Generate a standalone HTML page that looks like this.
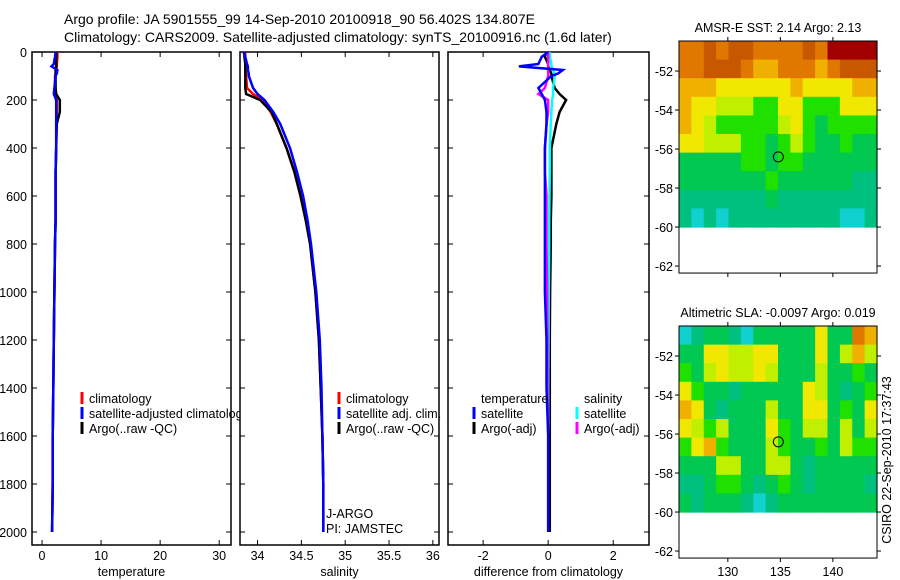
<!DOCTYPE html>
<html><head><meta charset="utf-8"><style>
body{margin:0;background:#fff}
svg{display:block;font-family:"Liberation Sans",sans-serif}
</style></head><body>
<svg id="c" width="900" height="580" xmlns="http://www.w3.org/2000/svg">
<text x="64" y="24" font-size="14">Argo profile: JA 5901555_99 14-Sep-2010 20100918_90 56.402S 134.807E</text>
<text x="64" y="42" font-size="14">Climatology: CARS2009. Satellite-adjusted climatology: synTS_20100916.nc (1.6d later)</text>
<g id="g"></g>
</svg>
<script>
const depths=[0,20,50,60,75,90,100,150,175,200,250,300,400,500,600,700,800,1000,1200,1400,1600,1800,2000];
const tempClim=[2.6,2.6,2.5,2.5,2.4,2.3,2.2,2.2,2.3,2.5,2.5,2.4,2.4,2.3,2.3,2.3,2.2,2.1,2.0,1.9,1.8,1.8,1.7];
const tempSat=[2.3,2.2,2.0,1.6,2.6,2.5,2.3,2.1,2.0,2.4,2.4,2.4,2.4,2.3,2.3,2.3,2.2,2.1,2.0,1.9,1.8,1.8,1.7];
const tempArgo=[2.4,2.4,2.4,2.4,2.3,2.3,2.3,2.3,2.4,3.0,3.0,2.5,2.4,2.3,2.3,2.3,2.2,2.1,2.0,1.9,1.8,1.8,1.7];
const salClim=[33.86,33.86,33.86,33.86,33.86,33.87,33.87,33.88,33.95,34.05,34.15,34.22,34.33,34.42,34.49,34.55,34.60,34.66,34.70,34.72,34.74,34.75,34.75];
const salSat=[33.84,33.86,33.88,33.89,33.89,33.90,33.90,33.95,34.00,34.08,34.18,34.26,34.37,34.45,34.52,34.57,34.61,34.67,34.71,34.73,34.74,34.75,34.75];
const salArgo=[33.85,33.85,33.86,33.86,33.86,33.86,33.86,33.86,33.87,34.03,34.16,34.22,34.33,34.42,34.49,34.55,34.60,34.66,34.70,34.72,34.74,34.75,34.75];
const dTempSat=[0,-0.2,-0.3,-0.9,0.45,0.3,0.1,-0.3,-0.2,-0.1,-0.05,-0.05,-0.1,-0.1,-0.1,-0.1,-0.1,-0.1,-0.05,-0.05,0,0,0];
const dTempArgo=[-0.05,-0.1,0,0,0.05,0.1,0.1,0.2,0.35,0.55,0.35,0.25,0.1,0.1,0.1,0.08,0.08,0.06,0.05,0.05,0.05,0.05,0.05];
const dSalSat=[0.05,0.05,0.1,0.1,0.15,0.2,0.2,0.15,0.15,0.12,0.1,0.08,0.05,0.05,0.04,0.03,0.03,0.02,0.01,0,0,0,0];
const dSalArgo=[0,0,0,0,0,0,0,-0.1,-0.3,0,0,-0.05,-0.1,-0.1,-0.05,-0.05,-0.05,-0.03,-0.02,-0.02,0,0,0];
const depthTicks=[0,200,400,600,800,1000,1200,1400,1600,1800,2000];
const tempTicks=[0,10,20,30];
const salTicks=[34,34.5,35,35.5,36];
const diffTicks=[-2,0,2];
const latTicks=[-52,-54,-56,-58,-60,-62];
const lonTicks=[130,135,140];
const sstGrid=[
[7,7,8,7,8,8,7,7,7,7,8,7,9,9,9,9],
[7,7,8,8,8,7,6,6,7,7,7,6,7,8,8,8],
[6,6,6,5,5,5,5,5,5,6,5,5,5,5,6,6],
[6,5,5,4,4,4,3,3,5,5,3,3,3,5,5,5],
[6,5,4,3,3,3,3,3,4,5,3,2,3,3,3,3],
[5,5,4,4,4,3,3,2,3,4,3,2,2,3,2,2],
[2,2,2,2,2,3,3,2,3,3,2,2,2,2,2,2],
[2,2,2,2,2,2,2,3,2,2,2,2,2,2,1,1],
[1,1,1,1,1,1,1,2,1,1,1,1,1,1,1,1],
[1,0,1,0,1,1,1,1,1,1,1,1,1,0,0,1]];
const slaGrid=[
[0,1,2,2,1,0,2,2,2,2,2,5,2,2,7,6],
[2,2,5,5,4,4,5,5,2,2,2,5,2,4,6,4],
[3,2,4,5,4,4,5,4,2,2,2,4,2,2,3,2],
[5,3,2,2,1,2,2,2,2,2,5,4,2,1,2,3],
[6,5,2,1,2,2,2,4,2,2,5,5,2,3,2,5],
[5,4,3,4,2,2,2,5,3,2,4,4,2,4,2,4],
[3,5,6,3,2,2,2,4,3,2,2,3,2,4,3,3],
[2,2,2,4,4,2,2,4,4,2,1,2,2,2,2,2],
[1,1,2,3,3,2,1,2,3,2,1,2,2,2,2,1],
[2,1,2,2,2,1,0,1,2,2,2,2,2,2,2,2]];
const floatLon=134.807, floatLat=-56.402;

const NS="http://www.w3.org/2000/svg";
const g=document.getElementById('g');
function mk(t,a,p){const e=document.createElementNS(NS,t);for(const k in a)e.setAttribute(k,a[k]);(p||g).appendChild(e);return e;}
const yTop=52,yBot=545;
const yD=d=>yTop+d*0.24;
const colors=['#10d0d0','#00c080','#00c850','#20e000','#c0f000','#f0e800','#f0b000','#e07800','#c85800','#a00000'];
const FS=12.5;

function panel(name,x0,x1,vmin,vmax,ticks,title,showY,fill){
  const sx=v=>x0+(v-vmin)/(vmax-vmin)*(x1-x0);
  const fr=mk('rect',{x:x0,y:yTop,width:x1-x0,height:yBot-yTop,fill:fill,stroke:'#000','stroke-width':1.5});
  
  
  depthTicks.forEach(d=>{
    mk('line',{x1:x0,x2:x0+5,y1:yD(d),y2:yD(d),stroke:'#000'});
    mk('line',{x1:x1,x2:x1-5,y1:yD(d),y2:yD(d),stroke:'#000'});
    if(showY){const t=mk('text',{x:x0-5,y:yD(d)+5,'font-size':FS,'text-anchor':'end'});t.textContent=d;
      
      }
  });
  ticks.forEach(v=>{
    mk('line',{x1:sx(v),x2:sx(v),y1:yTop,y2:yTop+5,stroke:'#000'});
    mk('line',{x1:sx(v),x2:sx(v),y1:yBot,y2:yBot-5,stroke:'#000'});
    const t=mk('text',{x:sx(v),y:560,'font-size':FS,'text-anchor':'middle'});t.textContent=v;
    
    
  });
  const tt=mk('text',{x:(x0+x1)/2,y:576,'font-size':FS,'text-anchor':'middle'});tt.textContent=title;
  
  
  return sx;
}
function line(sx,vals,col,nm,w){
  const pts=vals.map((v,i)=>sx(v).toFixed(1)+','+yD(depths[i]).toFixed(1)).join(' ');
  const p=mk('polyline',{points:pts,fill:'none',stroke:col,'stroke-width':w||2.5});
  
  
}
function legend(x,y,col,label,nm){
  if(col){mk('line',{x1:x,x2:x,y1:y-11,y2:y+1,stroke:col,'stroke-width':3});}
  const t=mk('text',{x:x+7,y:y,'font-size':FS});t.textContent=label;
  
  
}
const s1=panel('temperature-panel',32,231,-1.7,32,tempTicks,'temperature',true,'#fff');
line(s1,tempClim,'#f00','temp-climatology-line');
line(s1,tempArgo,'#000','temp-argo-line');
line(s1,tempSat,'#00f','temp-satellite-line');
legend(82,403,'#f00','climatology','legend-climatology');
legend(82,418,'#00f','satellite-adjusted climatology','legend-satellite-adjusted');
legend(82,433,'#000','Argo(..raw -QC)','legend-argo');
const s2=panel('salinity-panel',240,439,33.8,36.07,salTicks,'salinity',false,'#fff');
line(s2,salClim,'#f00','sal-climatology-line');
line(s2,salArgo,'#000','sal-argo-line');
line(s2,salSat,'#00f','sal-satellite-line');
legend(339,403,'#f00','climatology','legend-sal-climatology');
legend(339,418,'#00f','satellite adj. clim.','legend-sal-satellite');
legend(339,433,'#000','Argo(..raw -QC)','legend-sal-argo');
let t=mk('text',{x:326,y:518,'font-size':FS});t.textContent='J-ARGO';


t=mk('text',{x:326,y:533,'font-size':FS});t.textContent='PI: JAMSTEC';


const s3=panel('difference-panel',448,649,-3.08,3.1,diffTicks,'difference from climatology',false,'none');
line(s3,dTempArgo,'#000','diff-temp-argo-line');
line(s3,dSalSat,'#0ff','diff-sal-satellite-line');
line(s3,dSalArgo,'#f0f','diff-sal-argo-line');
line(s3,dTempSat,'#00f','diff-temp-satellite-line');
legend(474,403,null,'temperature','legend-temperature-header');
legend(474,418,'#00f','satellite','legend-diff-temp-satellite');
legend(474,433,'#000','Argo(-adj)','legend-diff-temp-argo');
legend(577,403,null,'salinity','legend-salinity-header');
legend(577,418,'#0ff','satellite','legend-diff-sal-satellite');
legend(577,433,'#f0f','Argo(-adj)','legend-diff-sal-argo');

function map(name,top,grid,title,lonLabels){
  const x0=679,x1=877,lonMin=125.35,lonMax=144.2,latTop=-50.46,pxDeg=19.5;
  const mx=l=>x0+(l-lonMin)/(lonMax-lonMin)*(x1-x0);
  const my=l=>top+(latTop-l)*pxDeg;
  const bot=my(-62.36);
  const rows=grid.length,cols=grid[0].length;
  const ch=(my(-60)-top)/rows,cw=(x1-x0)/cols;
  grid.forEach((r,i)=>r.forEach((v,j)=>{
    const c=mk('rect',{x:x0+j*cw,y:top+i*ch,width:cw+0.6,height:ch+0.6,fill:colors[v]});
    
    
  }));
  const fr=mk('rect',{x:x0,y:top,width:x1-x0,height:bot-top,fill:'none',stroke:'#000'});
  
  
  latTicks.forEach(l=>{
    mk('line',{x1:x0-4,x2:x0,y1:my(l),y2:my(l),stroke:'#000'});
    mk('line',{x1:x1,x2:x1+4,y1:my(l),y2:my(l),stroke:'#000'});
    const tx=mk('text',{x:673,y:my(l)+5,'font-size':FS,'text-anchor':'end'});tx.textContent=l;
    
    
  });
  lonTicks.forEach(l=>{
    mk('line',{x1:mx(l),x2:mx(l),y1:top-4,y2:top,stroke:'#000'});
    mk('line',{x1:mx(l),x2:mx(l),y1:bot,y2:bot+4,stroke:'#000'});
    if(lonLabels){const tx=mk('text',{x:mx(l),y:576,'font-size':FS,'text-anchor':'middle'});tx.textContent=l;
      
      }
  });
  const c=mk('circle',{cx:mx(floatLon),cy:my(floatLat),r:5,fill:'none',stroke:'#000'});
  
  
  const tx=mk('text',{x:(x0+x1)/2,y:top-9,'font-size':FS,'text-anchor':'middle'});tx.textContent=title;
  
  
}
map('sst-map',41,sstGrid,'AMSR-E SST: 2.14 Argo: 2.13',false);
map('sla-map',326,slaGrid,'Altimetric SLA: -0.0097 Argo: 0.019',true);
t=mk('text',{x:0,y:0,'font-size':FS,'text-anchor':'middle',transform:'translate(891,460) rotate(-90)'});t.textContent='CSIRO 22-Sep-2010 17:37:43';


</script>
</body></html>
